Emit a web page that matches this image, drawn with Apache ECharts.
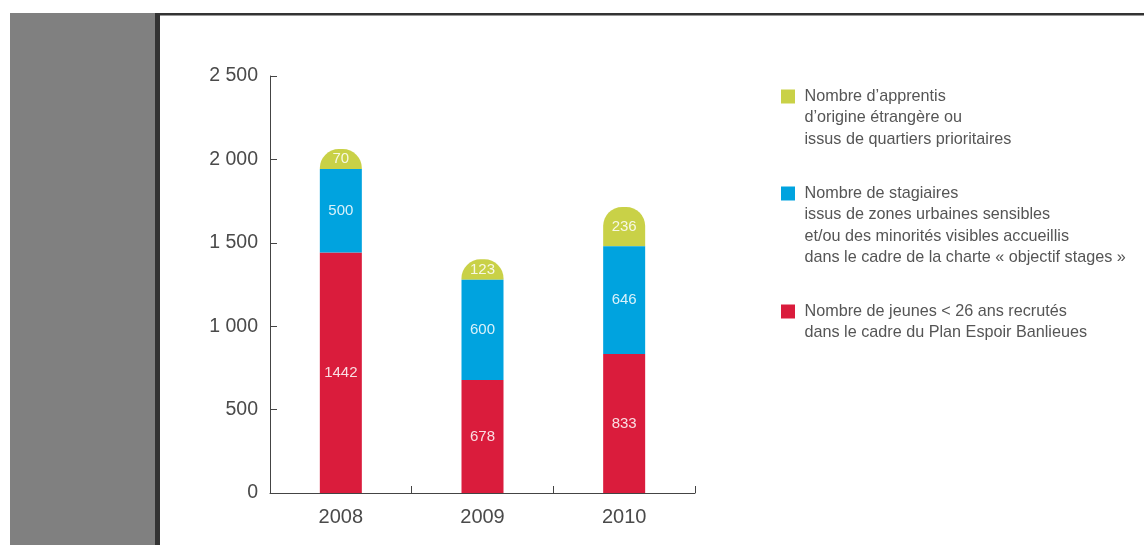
<!DOCTYPE html>
<html>
<head>
<meta charset="utf-8">
<script src="https://cdn.jsdelivr.net/npm/echarts@6/dist/echarts.min.js"></script>
<style>
html,body{margin:0;padding:0;background:#fff;}
#main{width:1144px;height:545px;}
</style>
</head>
<body>
<div id="main"></div>
<script>
// ---- data ----
var categories = ['2008', '2009', '2010'];
var jeunes = [1442, 678, 833];        // red
var stagiaires = [500, 600, 646];     // blue
var apprentis = [70, 123, 236];       // green
var yTicks = [0, 500, 1000, 1500, 2000, 2500];

var nameApprentis = "Nombre d\u2019apprentis\nd\u2019origine étrangère ou\nissus de quartiers prioritaires";
var nameStagiaires = "Nombre de stagiaires\nissus de zones urbaines sensibles\net/ou des minorités visibles accueillis\ndans le cadre de la charte « objectif stages »";
var nameJeunes = "Nombre de jeunes < 26 ans recrutés\ndans le cadre du Plan Espoir Banlieues";

var RED = '#DA1C3C', BLUE = '#00A3DF', GREEN = '#C9D147';
var FONT = 'Liberation Sans, Arial, sans-serif';
var LABEL_COLOR = 'rgba(255,255,255,0.85)';

var greenData = categories.map(function (c, i) {
  var base = jeunes[i] + stagiaires[i];
  return [i, base, base + apprentis[i], apprentis[i]];
});

var LH = 21.5;
function legendFor(name, iconCenter) {
  var n = name.split('\n').length;
  var H = (2 * n - 1) * LH;
  return {
    data: [name],
    orient: 'vertical',
    left: 781,
    top: iconCenter - H / 2 + 1,
    padding: 0,
    icon: 'rect',
    itemWidth: 14,
    itemHeight: 14,
    selectedMode: false,
    formatter: function (nm) {
      var pre = '';
      for (var k = 0; k < n - 1; k++) pre += ' \n';
      return pre + nm.split('\n').map(function (l) { return ' ' + l; }).join('\n');
    },
    textStyle: {
      color: '#555',
      fontSize: 16.2,
      fontFamily: FONT,
      lineHeight: LH
    }
  };
}

var chart = echarts.init(document.getElementById('main'));
chart.setOption({
  animation: false,
  backgroundColor: '#fff',
  graphic: [
    { type: 'rect', shape: { x: 10, y: 13, width: 145, height: 532 }, style: { fill: '#808080' }, z: 0 },
    { type: 'rect', shape: { x: 155, y: 13, width: 5, height: 532 }, style: { fill: '#333' }, z: 0 },
    { type: 'rect', shape: { x: 155, y: 13, width: 989, height: 2.5 }, style: { fill: '#333' }, z: 0 }
  ],
  legend: [
    legendFor(nameApprentis, 95.5),
    legendFor(nameStagiaires, 192.5),
    legendFor(nameJeunes, 310.5)
  ],
  grid: { left: 270, right: 449, top: 76, bottom: 52, containLabel: false },
  xAxis: {
    type: 'category',
    data: categories,
    axisLine: { lineStyle: { color: '#444', width: 1 } },
    axisTick: { show: true, inside: true, length: 7, lineStyle: { color: '#444' } },
    axisLabel: { color: '#4a4a4a', fontSize: 20, fontFamily: FONT, margin: 14 }
  },
  yAxis: {
    type: 'value',
    min: 0, max: 2500, interval: 500,
    splitLine: { show: false },
    axisLine: { show: true, lineStyle: { color: '#444', width: 1 } },
    axisTick: { show: true, inside: true, length: 7, lineStyle: { color: '#444' } },
    axisLabel: {
      color: '#4a4a4a', fontSize: 19.5, fontFamily: FONT, margin: 12,
      formatter: function (v) { return String(v).replace(/\B(?=(\d{3})+(?!\d))/g, ' '); }
    }
  },
  series: [
    {
      name: nameJeunes, type: 'bar', stack: 'total', barWidth: 42,
      data: jeunes,
      itemStyle: { color: RED },
      label: { show: true, position: 'inside', color: LABEL_COLOR, fontSize: 15, fontFamily: FONT }
    },
    {
      name: nameStagiaires, type: 'bar', stack: 'total', barWidth: 42,
      data: stagiaires,
      itemStyle: { color: BLUE },
      label: { show: true, position: 'inside', color: LABEL_COLOR, fontSize: 15, fontFamily: FONT }
    },
    {
      name: nameApprentis, type: 'custom',
      itemStyle: { color: GREEN },
      encode: { x: 0, y: 2 },
      data: greenData,
      renderItem: function (params, api) {
        var idx = api.value(0);
        var pBase = api.coord([idx, api.value(1)]);
        var pTop = api.coord([idx, api.value(2)]);
        var w = 42, r = 19;
        var yTop = Math.min(pTop[1], pBase[1] - 20);
        return {
          type: 'rect',
          shape: { x: pBase[0] - w / 2, y: yTop, width: w, height: pBase[1] - yTop, r: [r, r, 0, 0] },
          style: { fill: GREEN },
          textContent: {
            style: { text: String(api.value(3)), fill: LABEL_COLOR, fontSize: 15, fontFamily: FONT }
          },
          textConfig: { position: 'inside' }
        };
      }
    }
  ]
});
</script>
</body>
</html>
